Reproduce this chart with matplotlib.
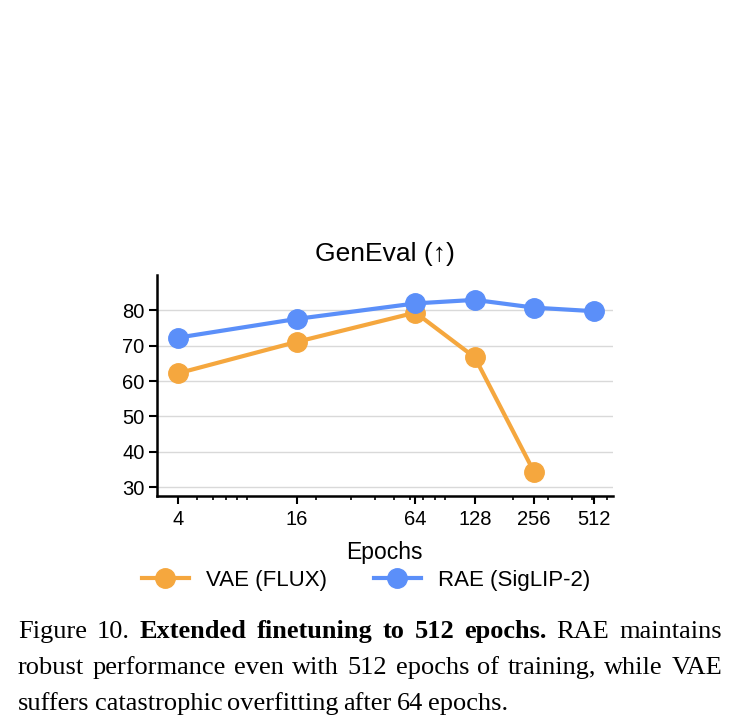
import matplotlib.pyplot as plt

epochs_vae = [4, 16, 64, 128, 256]
geneval_vae = [62.2, 71.1, 79.4, 66.7, 34.2]
epochs_rae = [4, 16, 64, 128, 256, 512]
geneval_rae = [72.3, 77.6, 82.0, 83.0, 80.8, 79.8]
xtick_vals = [4, 16, 64, 128, 256, 512]
ytick_vals = [30, 40, 50, 60, 70, 80]

orange = '#F5A73E'
blue = '#5B8FF9'

plt.rcParams['font.family'] = ['Liberation Sans', 'DejaVu Sans']

fig = plt.figure(figsize=(7.4, 7.26), dpi=100)
ax = fig.add_axes([0.212, 0.317, 0.616, 0.304])

ax.plot(epochs_vae, geneval_vae, color=orange, lw=3, marker='o', ms=14,
        label='VAE (FLUX)', zorder=3)
ax.plot(epochs_rae, geneval_rae, color=blue, lw=3, marker='o', ms=14,
        label='RAE (SigLIP-2)', zorder=3)

ax.set_xscale('log')
ax.set_xticks(xtick_vals)
ax.set_xticklabels([str(v) for v in xtick_vals])
ax.set_xlim(3.13, 640)
ax.set_ylim(27.5, 90)
ax.set_yticks(ytick_vals)
ax.yaxis.grid(True, color='#d9d9d9', lw=1)
ax.set_axisbelow(True)
for s in ['top', 'right']:
    ax.spines[s].set_visible(False)
for s in ['left', 'bottom']:
    ax.spines[s].set_linewidth(1.8)
ax.tick_params(axis='both', which='major', labelsize=14.5, width=1.5, length=5.5)
ax.tick_params(axis='x', which='major', pad=5)
ax.tick_params(axis='x', which='minor', width=1.2, length=3)
ax.set_xlabel('Epochs', fontsize=16.5, labelpad=8)
ax.set_title('GenEval (↑)', fontsize=19, pad=10)

fig.legend(loc='center', bbox_to_anchor=(0.495, 0.201), ncol=2, frameon=False,
           fontsize=16, handlelength=2.1, columnspacing=2.1, handletextpad=0.8)

# caption, justified line by line
caption = [
    [('Figure 10.', 'normal'), ('Extended finetuning to 512 epochs.', 'bold'),
     ('RAE maintains', 'normal')],
    [('robust performance even with 512 epochs of training, while VAE', 'normal')],
    [('suffers catastrophic overfitting after 64 epochs.', 'normal')],
]
x0, x1 = 18 / 740, 722 / 740
line_y = [1 - 638 / 726, 1 - 674 / 726, 1 - 710 / 726]
renderer = fig.canvas.get_renderer()
for i, (segs, y) in enumerate(zip(caption, line_y)):
    words = []
    for txt, w in segs:
        for word in txt.split(' '):
            words.append((word, w))
    objs = [fig.text(x0, y, wd, fontsize=19, family='Liberation Serif',
                     weight=w, va='baseline') for wd, w in words]
    widths = [o.get_window_extent(renderer).width / 740 for o in objs]
    if i < 2:
        gap = (x1 - x0 - sum(widths)) / (len(objs) - 1)
    else:
        gap = 5 / 740
    x = x0
    for o, wdt in zip(objs, widths):
        o.set_x(x)
        x += wdt + gap

fig.savefig('out.png', dpi=100)
